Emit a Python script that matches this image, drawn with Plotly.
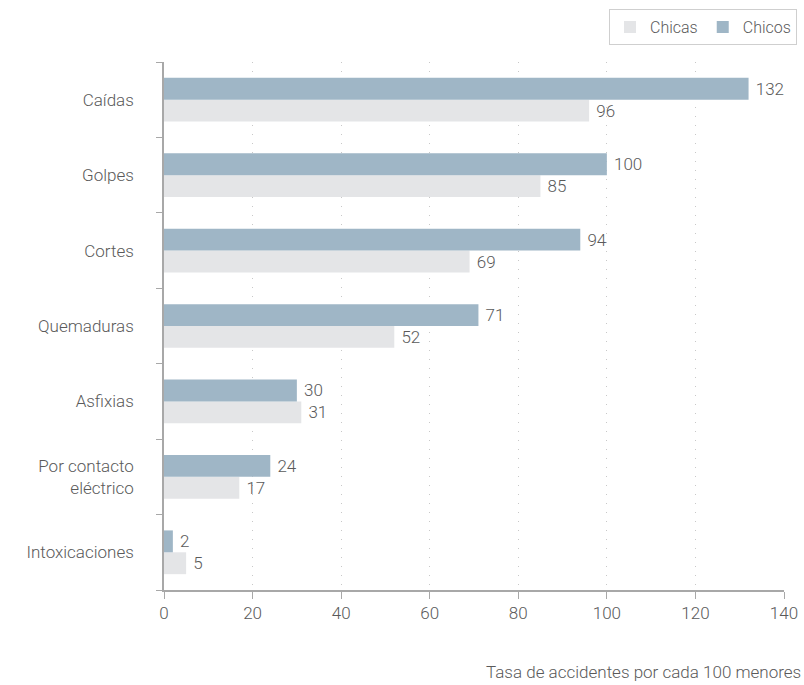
import plotly.graph_objects as go

categories = ["Caídas", "Golpes", "Cortes", "Quemaduras", "Asfixias", "Por contacto<br>eléctrico", "Intoxicaciones"]
chicas = [96, 85, 69, 52, 31, 17, 5]
chicos = [132, 100, 94, 71, 30, 24, 2]
x_ticks = [0, 20, 40, 60, 80, 100, 120, 140]

FONT = "Roboto"
TXT = "#5a5a5a"

fig = go.Figure()
fig.add_trace(go.Bar(
    y=categories, x=chicas, name="Chicas", orientation="h",
    marker=dict(color="#e4e5e7", line=dict(width=0)),
    text=[" " + str(v) for v in chicas], textposition="outside",
    textfont=dict(family=FONT, size=17, color=TXT, weight=300),
    cliponaxis=False,
))
fig.add_trace(go.Bar(
    y=categories, x=chicos, name="Chicos", orientation="h",
    marker=dict(color="#9fb6c6", line=dict(width=0)),
    text=[" " + str(v) for v in chicos], textposition="outside",
    textfont=dict(family=FONT, size=17, color=TXT, weight=300),
    cliponaxis=False,
))

fig.update_layout(
    width=804, height=685,
    margin=dict(l=164, r=20, t=62, b=95, autoexpand=False),
    paper_bgcolor="white", plot_bgcolor="white",
    barmode="group", bargap=0.42, bargroupgap=0,
    font=dict(family=FONT, size=16, color=TXT, weight=300),
    showlegend=True,
    legend=dict(
        orientation="h", x=1.021, xanchor="right", y=1.1, yanchor="top",
        bordercolor="#cfcfcf", borderwidth=1, bgcolor="white",
        font=dict(family=FONT, size=16, color=TXT, weight=300),
        itemwidth=30, tracegroupgap=0,
    ),
    xaxis=dict(
        range=[0, 140], tickvals=x_ticks, ticktext=[str(v) for v in x_ticks],
        showgrid=True, gridcolor="#c8c8c8", griddash="1px,8px", gridwidth=1,
        zeroline=False, showline=True, linecolor="#a8a8a8", linewidth=1.5,
        ticks="outside", ticklen=7, tickcolor="#a8a8a8",
        tickfont=dict(family=FONT, size=17, color=TXT, weight=300),
    ),
    yaxis=dict(
        categoryorder="array", categoryarray=categories[::-1],
        showline=True, linecolor="#a8a8a8", linewidth=1.5,
        ticks="outside", tickson="boundaries", ticklen=6, tickcolor="#a8a8a8",
        showgrid=False, ticklabelstandoff=25,
        tickfont=dict(family=FONT, size=17, color=TXT, weight=300),
    ),
    annotations=[dict(
        text="Tasa de accidentes por cada 100 menores",
        xref="paper", yref="paper", x=1.03, y=-0.132,
        xanchor="right", yanchor="top", showarrow=False,
        font=dict(family=FONT, size=17, color=TXT, weight=300),
    )],
)

fig.write_html("out.html", config={"displayModeBar": False},
               post_script="document.body.style.margin='0';")
